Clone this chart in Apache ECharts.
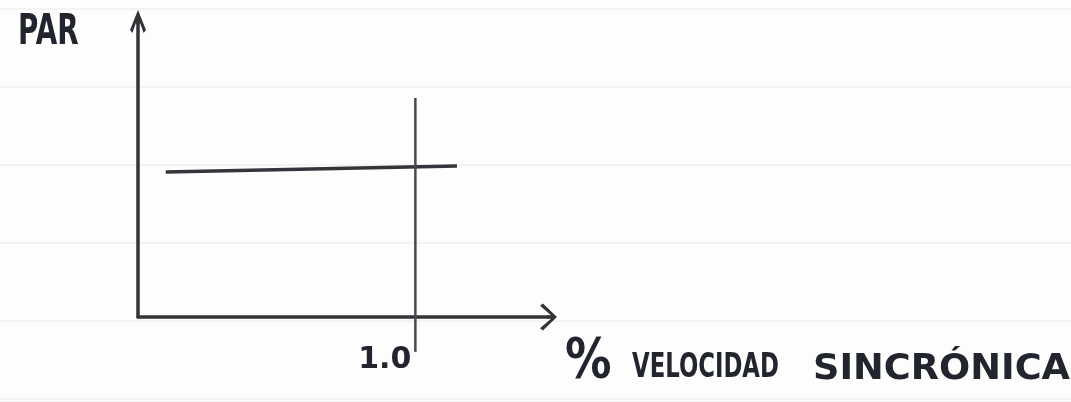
<!DOCTYPE html>
<html>
<head>
<meta charset="utf-8">
<title>Par vs velocidad sincrónica</title>
<script src="https://cdn.jsdelivr.net/npm/echarts@6/dist/echarts.min.js"></script>
<style>
  html, body { margin: 0; padding: 0; background: #fdfdfd; }
  #chart { width: 1071px; height: 402px; }
</style>
</head>
<body>
<div id="chart"></div>
<script>
// Constant torque level across the speed range (per-unit speed on x)
const parX = [0.10, 1.15];
const parY = [0.491, 0.511];
// Synchronous speed marker at 1.0
const syncX = [1.0, 1.0];
const syncY = [0.741, -0.118];
// Tick labelled on the speed axis
const xTickValues = [1.0];
const xTickLabels = ['1.0'];
// Axis titles
const yTitle = 'PAR';
const xTitleParts = ['%', 'VELOCIDAD', 'SINCRÓNICA'];

const ink = '#23252e';
const font = 'DejaVu Sans';

// Open chevron arrowheads (with a short stem so the axis reaches the tip)
const arrowX = 'path://M14 0 L28 14.5 L25.5 17.5 L15.7 6.2 L15.7 10 L12.3 10 L12.3 6.2 L2.5 17.5 L0 14.5 Z';
const arrowY = 'path://M8 0 L16 20 L13.6 23 L9.7 12 L9.7 14 L6.3 14 L6.3 12 L2.4 23 L0 20 Z';

const chart = echarts.init(document.getElementById('chart'), null, { renderer: 'canvas' });

function pairs(xs, ys) { return xs.map((x, i) => [x, ys[i]]); }

chart.setOption({
  backgroundColor: '#fdfdfd',
  animation: false,
  grid: [
    { left: 138, top: 21.5, right: 522.5, bottom: 85, outerBoundsMode: 'none' },
    // faint ruled lines of the notebook page
    { left: 0, right: 0, top: 9, bottom: 0, outerBoundsMode: 'none', z: -1 }
  ],
  xAxis: [
    {
      type: 'value', gridIndex: 0, min: 0, max: 1.48, interval: 1,
      axisLine: {
        show: true, onZero: false,
        symbol: ['none', arrowX], symbolSize: [28, 17],
        lineStyle: { color: '#333338', width: 3.5 }
      },
      axisTick: { show: false },
      splitLine: { show: false },
      axisLabel: {
        show: true, margin: 28, align: 'right', padding: [0, 4, 0, 0],
        color: ink, fontFamily: font, fontWeight: 'bold', fontSize: 30,
        showMinLabel: true, showMaxLabel: true,
        formatter: function (v) {
          const i = xTickValues.findIndex(t => Math.abs(t - v) < 1e-9);
          return i >= 0 ? xTickLabels[i] : '';
        }
      }
    },
    {
      type: 'value', gridIndex: 1, min: 0, max: 1, z: -1,
      axisLine: { show: false }, axisTick: { show: false }, axisLabel: { show: false },
      splitLine: { show: false }
    }
  ],
  yAxis: [
    {
      type: 'value', gridIndex: 0, min: 0, max: 1,
      axisLine: {
        show: true, onZero: false,
        symbol: ['none', arrowY], symbolSize: [16, 23],
        lineStyle: { color: '#333338', width: 3.5 }
      },
      axisTick: { show: false },
      axisLabel: { show: false },
      splitLine: { show: false }
    },
    {
      type: 'value', gridIndex: 1, min: 0, max: 393, interval: 78, inverse: true, z: -1,
      axisLine: { show: false }, axisTick: { show: false }, axisLabel: { show: false },
      splitLine: { show: true, lineStyle: { color: '#f3f3f3', width: 2 } }
    }
  ],
  series: [
    {
      name: 'Par',
      type: 'line', xAxisIndex: 0, yAxisIndex: 0,
      data: pairs(parX, parY),
      showSymbol: false, clip: false,
      lineStyle: { color: '#34343a', width: 3.5 },
      z: 3
    },
    {
      name: 'Velocidad sincrónica',
      type: 'line', xAxisIndex: 0, yAxisIndex: 0,
      data: pairs(syncX, syncY),
      showSymbol: false, clip: false,
      lineStyle: { color: '#48484e', width: 2.5 },
      z: 4
    }
  ],
  graphic: [
    {
      type: 'text', x: 18, y: 33, scaleX: 0.66,
      style: { text: yTitle, fill: ink, font: 'bold 42px "' + font + '"', textAlign: 'left', textVerticalAlign: 'middle' }
    },
    {
      type: 'text', x: 565, y: 362, scaleX: 0.83,
      style: { text: xTitleParts[0], fill: ink, font: 'bold 56px "' + font + '"', textAlign: 'left', textVerticalAlign: 'middle' }
    },
    {
      type: 'text', x: 632, y: 368, scaleX: 0.67,
      style: { text: xTitleParts[1], fill: ink, font: 'bold 34px "' + font + '"', textAlign: 'left', textVerticalAlign: 'middle' }
    },
    {
      type: 'text', x: 813, y: 370, scaleX: 1.02,
      style: { text: xTitleParts[2], fill: ink, font: 'bold 36px "' + font + '"', textAlign: 'left', textVerticalAlign: 'middle' }
    }
  ]
});
</script>
</body>
</html>
